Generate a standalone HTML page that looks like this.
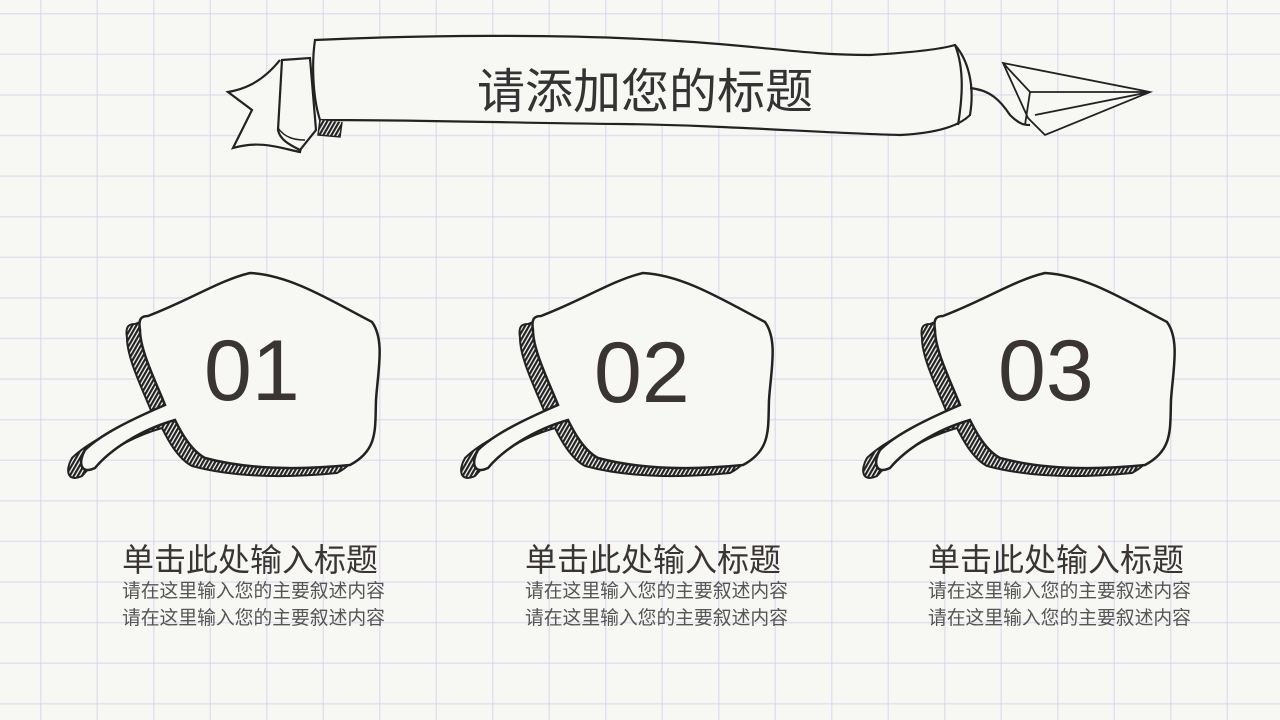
<!DOCTYPE html>
<html><head><meta charset="utf-8"><style>
html,body{margin:0;padding:0}
body{width:1280px;height:720px;overflow:hidden;position:relative;background-color:#f7f8f4;
background-image:linear-gradient(90deg,rgba(210,210,235,.6) 1.5px,transparent 1.5px),linear-gradient(rgba(210,210,235,.6) 1.5px,transparent 1.5px);
background-size:56.5px 40.6px;background-position:40px 13px;font-family:"Liberation Sans","Noto Sans CJK SC",sans-serif}
svg{position:absolute;left:0;top:0}
.t{position:absolute;color:#3a3434;white-space:nowrap}
.h{font-size:32px}
.s{font-size:18.8px;color:#555;line-height:27px}
</style></head><body>
<svg width="1280" height="720" viewBox="0 0 1280 720">
<defs>
<pattern id="hz" width="3.5" height="4" patternUnits="userSpaceOnUse" patternTransform="rotate(30)">
<rect width="4" height="4" fill="#f7f8f4"/><rect width="2.2" height="4" fill="#222"/></pattern>
<g id="bub">
<path transform="translate(-13,8)" fill="url(#hz)" stroke="#222" stroke-width="2" d="M148,316 C190,300 220,280 250,273 C290,275 330,300 372,322 C385,340 378,370 376,400 C375,430 378,450 350,465 C300,470 250,470 205,458 C190,450 180,430 175,420 C140,430 110,450 95,468 C80,475 78,462 85,450 C100,435 130,420 165,405 C155,380 140,350 140,330 C138,318 142,316 148,316 Z"/>
<path fill="#f7f8f4" stroke="#222" stroke-width="2.5" d="M148,316 C190,300 220,280 250,273 C290,275 330,300 372,322 C385,340 378,370 376,400 C375,430 378,450 350,465 C300,470 250,470 205,458 C190,450 180,430 175,420 C140,430 110,450 95,468 C80,475 78,462 85,450 C100,435 130,420 165,405 C155,380 140,350 140,330 C138,318 142,316 148,316 Z"/>
</g>
</defs>
<use href="#bub"/>
<use href="#bub" transform="translate(393,0)"/>
<use href="#bub" transform="translate(795,0)"/>
<g fill="none" stroke="#222" stroke-width="2.2">
<path d="M280,60 C260,85 240,90 228,92 L252,110 L233,148 C260,140 280,148 300,152 L305,130" fill="#f7f8f4"/>
<path d="M282,60 L310,58 L316,130 L300,150 C290,145 280,140 278,130 Z" fill="#f7f8f4"/>
<path d="M278,128 C285,138 295,140 305,140" stroke-width="1.5"/>
<path d="M315,40 C420,35 560,34 660,40 C760,45 800,55 870,55 C920,52 945,48 955,45 C968,60 975,85 970,115 C960,125 940,133 900,135 C820,133 720,125 620,124 C520,123 420,120 320,120 C312,95 312,60 315,40 Z" fill="#f7f8f4"/>
<path d="M955,45 C965,70 962,100 958,125"/>
<path d="M320,120 L318,135 L340,137 L342,122" fill="url(#hz)" stroke-width="1.5"/>
<path d="M970,88 C990,90 1000,100 1010,115 C1020,125 1025,125 1030,125"/>
<path d="M1003,63 L1150,92 L1045,135 L1028,118 Z M1003,63 L1030,92 L1150,92 M1030,92 L1025,125 M1035,115 L1150,92" stroke-width="1.8" fill="#f7f8f4"/>
</g>
</svg>
<div class="t" style="left:477px;top:52px;font-size:48px;color:#333">请添加您的标题</div>
<div class="t" style="left:204px;top:322px;font-size:86px">01</div>
<div class="t" style="left:594px;top:324px;font-size:86px">02</div>
<div class="t" style="left:998px;top:322px;font-size:86px">03</div>
<div class="t h" style="left:122px;top:535px">单击此处输入标题</div>
<div class="t s" style="left:122px;top:577px">请在这里输入您的主要叙述内容<br>请在这里输入您的主要叙述内容</div>
<div class="t h" style="left:525px;top:535px">单击此处输入标题</div>
<div class="t s" style="left:525px;top:577px">请在这里输入您的主要叙述内容<br>请在这里输入您的主要叙述内容</div>
<div class="t h" style="left:928px;top:535px">单击此处输入标题</div>
<div class="t s" style="left:928px;top:577px">请在这里输入您的主要叙述内容<br>请在这里输入您的主要叙述内容</div>
</body></html>
